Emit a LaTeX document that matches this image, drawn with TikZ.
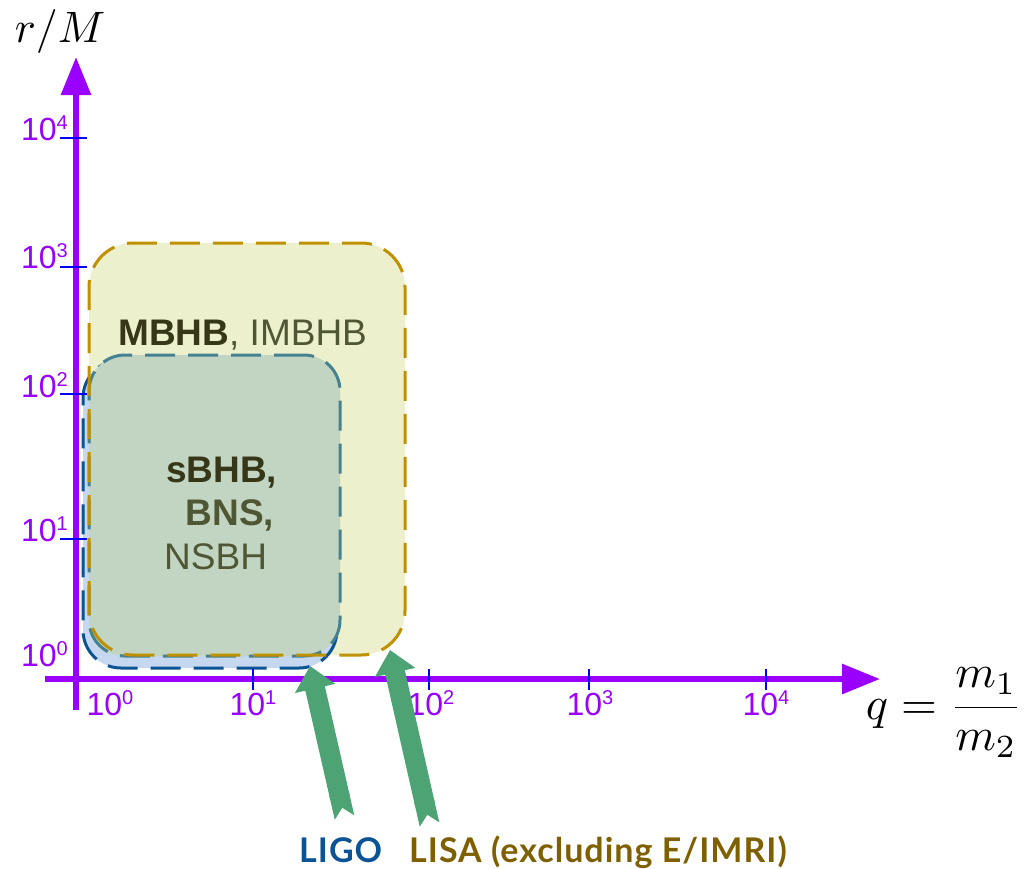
\documentclass[tikz,border=0pt]{standalone}
\usepackage{fontspec}
\setmainfont{Liberation Sans}
\newfontfamily\latofont{Lato}[LetterSpace=3]
\usetikzlibrary{arrows.meta}
\definecolor{axpurple}{HTML}{9900FF}
\definecolor{tickblue}{HTML}{0000FF}
\definecolor{lisafill}{HTML}{ECF0CC}
\definecolor{lisaline}{HTML}{BF9000}
\definecolor{ligofill}{HTML}{C5D8EF}
\definecolor{ligoline}{HTML}{0B5394}
\definecolor{tealfill}{HTML}{C2D5C3}
\definecolor{tealline}{HTML}{45818E}
\definecolor{lisatext}{HTML}{7F6000}
\definecolor{arrowgreen}{HTML}{4EA374}
\definecolor{textdark}{HTML}{363717}
\definecolor{textmid}{HTML}{4E5634}
\newcommand{\tenpow}[1]{\fontsize{32}{36}\selectfont 10\raisebox{11pt}{\fontsize{20}{20}\selectfont #1}}
\tikzset{
  axisline/.style={axpurple, line width=6pt, -{Triangle[length=38pt,width=29pt]}},
  tickmark/.style={tickblue, line width=2pt},
  ticklab/.style={text=axpurple, inner sep=0pt},
  regionbox/.style={rectangle, outer sep=0pt, inner sep=0pt, line width=3pt, dash pattern=on 30pt off 13pt},
  lisabox/.style={regionbox, fill=lisafill, rounded corners=44pt, minimum width=316pt, minimum height=412pt},
  ligobox/.style={regionbox, draw=ligoline, fill=ligofill, rounded corners=38pt, minimum width=254pt, minimum height=308pt},
  tealbox/.style={regionbox, draw=tealline, fill=tealfill, rounded corners=36pt, minimum width=251pt, minimum height=301pt},
  lisaborder/.style={draw=lisaline, line width=3pt, dash pattern=on 30pt off 13pt, rounded corners=44pt},
  boxtext/.style={inner sep=0pt, anchor=base west, font=\fontsize{37}{40}\selectfont},
  detlabel/.style={inner sep=0pt, anchor=base west, font=\latofont\bfseries\fontsize{34}{40}\selectfont},
  mathlab/.style={inner sep=0pt, anchor=base west, scale=4.4},
  greenarrow/.style={arrowgreen, line width=20pt, {Triangle Cap[reversed]}-{Triangle[width=40pt,length=23pt]}},
}
\begin{document}
\begin{tikzpicture}[x=1pt,y=-1pt]
\useasboundingbox (0,0) rectangle (1030,868);
% region boxes
\node[lisabox] (lisa) at (247,449) {};
\node[ligobox] (ligo) at (210,514) {};
\node[tealbox] (teal) at (214.5,505.5) {};
\draw[lisaborder] (lisa.south west) rectangle (lisa.north east);
% box texts
\node[boxtext] (mbhb) at (118,345) {\textcolor{textdark}{\textbf{MBHB}}\textcolor{textmid}{, IMBHB}};
\node[boxtext, text=textdark] (sbhb) at (166,482) {\textbf{sBHB,}};
\node[boxtext, text=textmid] (bns) at (185.5,525) {\textbf{BNS,}};
\node[boxtext, text=textmid] (nsbh) at (164,569) {NSBH};
% axes
\coordinate (ybot) at (76,710);
\coordinate (ytop) at (76,57);
\coordinate (xleft) at (45,679);
\coordinate (xright) at (880,679);
\draw[axisline] (ybot) -- (ytop);
\draw[axisline] (xleft) -- (xright);
% y ticks
\foreach \yy in {138, 267, 394, 539}{
  \draw[tickmark] (60,\yy) -- (87,\yy);
}
\node[ticklab, anchor=base east] (y4) at (68,140) {\tenpow{4}};
\node[ticklab, anchor=base east] (y3) at (68,268) {\tenpow{3}};
\node[ticklab, anchor=base east] (y2) at (68,397) {\tenpow{2}};
\node[ticklab, anchor=base east] (y1) at (68,541) {\tenpow{1}};
\node[ticklab, anchor=base east] (y0) at (68,666) {\tenpow{0}};
% x ticks
\foreach \xx in {253, 429, 589, 766}{
  \draw[tickmark] (\xx,669) -- (\xx,690);
}
\node[ticklab, anchor=base] (x0) at (110,715) {\tenpow{0}};
\node[ticklab, anchor=base] (x1) at (253,715) {\tenpow{1}};
\node[ticklab, anchor=base] (x2) at (431,715) {\tenpow{2}};
\node[ticklab, anchor=base] (x3) at (590,715) {\tenpow{3}};
\node[ticklab, anchor=base] (x4) at (766,715) {\tenpow{4}};
% axis titles
\node[mathlab] (ytitle) at (14,42) {$r/M$};
\node[mathlab, scale=1.05] (xtitle) at (865,719) {$\displaystyle q=\frac{m_1}{m_2}$};
% detector labels and arrows
\node[detlabel, text=ligoline] (ligolab) at (299,862) {LIGO};
\node[detlabel, text=lisatext] (lisalab) at (409,862) {LISA (excluding E/IMRI)};
\coordinate (ligotail) at (344.5,817.5);
\coordinate (ligotip) at (310,666);
\coordinate (lisatail) at (429.5,824.5);
\coordinate (lisatip) at (390,650);
\draw[greenarrow] (ligotail) -- (ligotip);
\draw[greenarrow] (lisatail) -- (lisatip);
\end{tikzpicture}
\end{document}
